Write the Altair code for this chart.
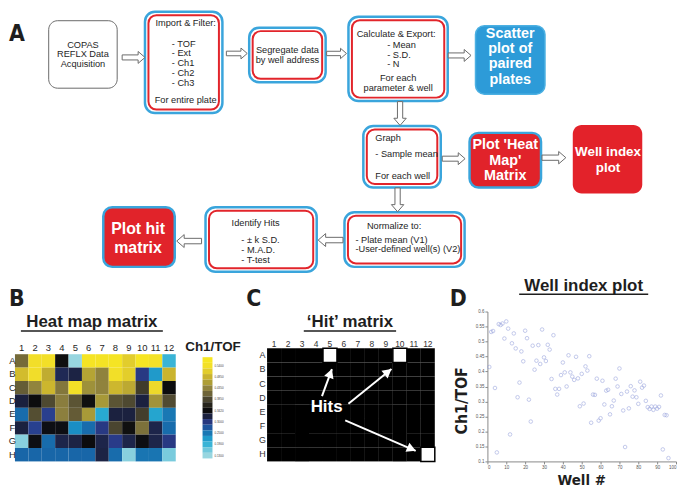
import math
import altair as alt
import pandas as pd

FONT = "Liberation Sans, Arial, Helvetica, sans-serif"
COND = "DejaVu Sans Condensed, Liberation Sans Narrow, Liberation Sans, sans-serif"
INK = "#1e1e1e"
BLUE = "#3aa5dc"
RED = "#e2252b"

# ---------------- Panel A: flow chart (figure pixel layout) ----------------
box_kind = ["plain", "double", "double", "double", "blue", "double",
            "redblue", "red", "double", "double", "redblue"]
box_x1 = [48, 145, 250, 350, 478, 365, 472, 576, 346, 206, 103]
box_y1 = [19, 10, 26, 15, 24, 125, 132, 124, 212, 207, 207]
box_x2 = [117, 223, 327, 450, 548, 443, 544, 646, 467, 318, 175]
box_y2 = [87, 112, 81, 100, 93, 187, 187, 193, 267, 272, 267]

arrow_x = [133.5, 237.5, 338, 462, 402, 456, 557, 399.5, 332, 189.5]
arrow_y = [56, 52, 52, 54, 112.5, 158, 157, 199.5, 240, 241]
arrow_angle = [0, 0, 0, 0, 90, 0, 0, 90, 180, 180]
arrow_len = [23, 21, 20, 23, 24, 23, 24, 24, 25, 25]

ctr_x = [82.5, 82.5, 82.5, 186, 186, 288.5, 288.5, 398, 400, 400, 396, 256.5]
ctr_y = [43, 53, 63, 21, 99, 49, 59, 32, 77, 87, 226, 223]
ctr_t = ["COPAS", "REFLX Data", "Acquisition", "Import & Filter:", "For entire plate",
         "Segregate data", "by well address", "Calculate & Export:", "For each",
         "parameter & well", "Normalize to:", "Identify Hits"]

left_x = [172, 172, 172, 172, 172, 389, 389, 389, 377, 377, 377, 357, 357, 242, 242, 242]
left_y = [42, 52, 62, 71.5, 81.5, 44, 53.5, 63, 137.5, 153, 175, 239.5, 249.5, 240, 250, 260]
left_t = ["- TOF", "- Ext", "- Ch1", "- Ch2", "- Ch3", "- Mean", "- S.D.", "- N",
          "Graph", "- Sample mean", "For each well", "- Plate mean (V1)",
          "-User-defined well(s) (V2)", "- \u00b1 k S.D.", "- M.A.D.", "- T-test"]

wb14_x = [513, 513, 513, 513, 508, 508, 508]
wb14_y = [32.5, 48, 63, 78.5, 144.5, 160, 175]
wb14_t = ["Scatter", "plot of", "paired", "plates", "Plot 'Heat", "Map'", "Matrix"]
wb13_x = [611.5, 611.5]
wb13_y = [151.5, 167]
wb13_t = ["Well index", "plot"]
wb16_x = [138, 138]
wb16_y = [229, 248]
wb16_t = ["Plot hit", "matrix"]

letter_x = [8, 8, 247, 452]
letter_y = [39, 306, 306, 306]
letter_t = ["A", "B", "C", "D"]

title_x = [91.5, 351.5, 587]
title_y = [328, 328, 291]
title_t = ["Heat map matrix", "\u2018Hit\u2019 matrix", "Well index plot"]
uline_x1 = [20, 305, 522]
uline_x2 = [163, 398, 652]
uline_y = [331.5, 331.5, 294.5]

SX = alt.Scale(domain=[8, 680], nice=False, zero=False)
SY = alt.Scale(domain=[8, 312], reverse=True, nice=False, zero=False)

boxes = pd.DataFrame({"kind": box_kind, "x1": box_x1, "y1": box_y1,
                      "x2": box_x2, "y2": box_y2})


def canvas_rect(df, **mark):
    return alt.Chart(df).mark_rect(**mark).encode(
        x=alt.X("x1:Q", scale=SX, axis=None), x2="x2:Q",
        y=alt.Y("y1:Q", scale=SY, axis=None), y2="y2:Q")


def canvas_text(xs, ys, ts, size, align="center", weight="normal", color=INK,
                font=FONT, baseline="middle"):
    df = pd.DataFrame({"x": xs, "y": ys, "t": ts})
    return alt.Chart(df).mark_text(
        align=align, baseline=baseline, fontSize=size, fontWeight=weight,
        color=color, font=font).encode(
        x=alt.X("x:Q", scale=SX, axis=None),
        y=alt.Y("y:Q", scale=SY, axis=None), text="t:N")


dbl = boxes[boxes.kind == "double"]
inner = dbl.assign(x1=dbl.x1 + 3.5, y1=dbl.y1 + 3.5, x2=dbl.x2 - 3.5, y2=dbl.y2 - 3.5)

ARROW = "M-1,-0.22L0.4,-0.22L0.4,-0.52L1,0L0.4,0.52L0.4,0.22L-1,0.22Z"
arrows = pd.DataFrame({"x": arrow_x, "y": arrow_y, "a": arrow_angle,
                       "s": [l * l for l in arrow_len]})

uline = pd.DataFrame({"x1": uline_x1, "x2": uline_x2, "y": uline_y})

flow = alt.layer(
    canvas_rect(boxes[boxes.kind == "plain"], fill="white", stroke="#6a6a6a",
                strokeWidth=1, cornerRadius=9),
    canvas_rect(dbl, fill="white", stroke=BLUE, strokeWidth=2.5, cornerRadius=10),
    canvas_rect(inner, fill="white", stroke=RED, strokeWidth=2, cornerRadius=8),
    canvas_rect(boxes[boxes.kind == "blue"], fill="#2d9bd8", stroke="#4cb0e2",
                strokeWidth=1.5, cornerRadius=9),
    canvas_rect(boxes[boxes.kind == "redblue"], fill="#e1232a", stroke=BLUE,
                strokeWidth=2.5, cornerRadius=9),
    canvas_rect(boxes[boxes.kind == "red"], fill="#e3222a", cornerRadius=9),
    alt.Chart(arrows).mark_point(shape=ARROW, filled=True, color="white",
                                 stroke="#6b6b6b", strokeWidth=1, opacity=1).encode(
        x=alt.X("x:Q", scale=SX, axis=None), y=alt.Y("y:Q", scale=SY, axis=None),
        angle=alt.Angle("a:Q", scale=None), size=alt.Size("s:Q", scale=None)),
    canvas_text(ctr_x, ctr_y, ctr_t, 9.3),
    canvas_text(left_x, left_y, left_t, 9.3, align="left"),
    canvas_text(wb14_x, wb14_y, wb14_t, 14.5, weight="bold", color="white"),
    canvas_text(wb13_x, wb13_y, wb13_t, 13.5, weight="bold", color="white"),
    canvas_text(wb16_x, wb16_y, wb16_t, 16, weight="bold", color="white"),
    canvas_text(letter_x, letter_y, letter_t, 23, align="left", weight="bold",
                font=COND, baseline="alphabetic"),
    canvas_text(title_x, title_y, title_t, 17, weight="bold", baseline="alphabetic"),
    alt.Chart(uline).mark_rule(color=INK, strokeWidth=1.5).encode(
        x=alt.X("x1:Q", scale=SX, axis=None), x2="x2:Q",
        y=alt.Y("y:Q", scale=SY, axis=None)),
).properties(width=672, height=304)

# ---------------- Panel B: heat map matrix ----------------
plate_rows = ["A", "B", "C", "D", "E", "F", "G", "H"]
plate_cols = [1, 2, 3, 4, 5, 6, 7, 8, 9, 10, 11, 12]
heat_vals = [
    [0.415, 0.532, 0.535, 0.345, 0.130, 0.558, 0.555, 0.560, 0.510, 0.567, 0.543, 0.190],
    [0.494, 0.527, 0.477, 0.314, 0.320, 0.467, 0.434, 0.536, 0.511, 0.298, 0.222, 0.486],
    [0.404, 0.436, 0.488, 0.425, 0.540, 0.447, 0.435, 0.489, 0.473, 0.378, 0.521, 0.342],
    [0.323, 0.342, 0.388, 0.430, 0.397, 0.345, 0.454, 0.397, 0.388, 0.322, 0.449, 0.390],
    [0.258, 0.392, 0.293, 0.432, 0.403, 0.455, 0.205, 0.322, 0.322, 0.380, 0.210, 0.250],
    [0.322, 0.292, 0.340, 0.340, 0.235, 0.258, 0.298, 0.385, 0.345, 0.420, 0.318, 0.258],
    [0.140, 0.340, 0.258, 0.318, 0.320, 0.342, 0.318, 0.296, 0.318, 0.340, 0.318, 0.298],
    [0.262, 0.262, 0.262, 0.262, 0.262, 0.262, 0.320, 0.258, 0.140, 0.252, 0.252, 0.150],
]
color_stops = [0.13, 0.20, 0.235, 0.262, 0.295, 0.32, 0.342, 0.385, 0.43, 0.455,
               0.485, 0.525, 0.57]
color_list = ["#98d6e0", "#2aaed4", "#1a8ec4", "#1866a8", "#2a3c8c", "#1c2344",
              "#0c0c0e", "#4a4530", "#8a7d3e", "#a89a38", "#c9b32e", "#f1dd2a", "#f6e622"]
cbar_levels = [0.57, 0.54, 0.51, 0.485, 0.46, 0.435, 0.41, 0.385, 0.36, 0.342,
               0.322, 0.30, 0.275, 0.25, 0.22, 0.19, 0.155, 0.13]

CSCALE = alt.Scale(domain=color_stops, range=color_list, interpolate="rgb")
BX = alt.Scale(domain=[-6 / 13.5, 201 / 13.5], nice=False, zero=False)
BY = alt.Scale(domain=[-43 / 13.5, 8], reverse=True, nice=False, zero=False)

cells = []
for ri, vals in enumerate(heat_vals):
    for ci, v in enumerate(vals):
        cells.append({"c0": ci, "c1": ci + 1, "r0": ri, "r1": ri + 1, "v": v})
cells_b = pd.DataFrame(cells)
collab_b = pd.DataFrame({"x": [c - 0.5 for c in plate_cols], "y": -0.44,
                         "t": [str(c) for c in plate_cols]})
rowlab_b = pd.DataFrame({"x": -0.185, "y": [i + 0.5 for i in range(8)], "t": plate_rows})
cbar = pd.DataFrame({"lo": list(range(len(cbar_levels))),
                     "hi": [i + 1 for i in range(len(cbar_levels))],
                     "mid": [i + 0.5 for i in range(len(cbar_levels))],
                     "lev": cbar_levels,
                     "t": [f"{l:.4f}" for l in cbar_levels]})
CBY = alt.Scale(domain=[0, len(cbar_levels)], range=[46, 148], nice=False, zero=False)

panel_b = alt.layer(
    alt.Chart(cells_b).mark_rect().encode(
        x=alt.X("c0:Q", scale=BX, axis=None), x2="c1:Q",
        y=alt.Y("r0:Q", scale=BY, axis=None), y2="r1:Q",
        color=alt.Color("v:Q", scale=CSCALE, legend=None)),
    alt.Chart(collab_b).mark_text(fontSize=9.5, font=FONT, color=INK).encode(
        x=alt.X("x:Q", scale=BX, axis=None), y=alt.Y("y:Q", scale=BY, axis=None),
        text="t:N"),
    alt.Chart(rowlab_b).mark_text(fontSize=9.5, font=FONT, color=INK).encode(
        x=alt.X("x:Q", scale=BX, axis=None), y=alt.Y("y:Q", scale=BY, axis=None),
        text="t:N"),
    alt.Chart(cbar).mark_rect().encode(
        x=alt.value(195), x2=alt.value(205),
        y=alt.Y("lo:Q", scale=CBY, axis=None), y2="hi:Q",
        color=alt.Color("lev:Q", scale=CSCALE, legend=None)),
    alt.Chart(cbar[cbar.lo % 2 == 1]).mark_text(fontSize=3, font=FONT, color="#444",
                                                 align="left").encode(
        x=alt.value(207), y=alt.Y("mid:Q", scale=CBY, axis=None), text="t:N"),
    alt.Chart(pd.DataFrame({"t": ["Ch1/TOF"]})).mark_text(
        fontSize=13.5, fontWeight="bold", font=FONT, color=INK).encode(
        x=alt.value(205.5), y=alt.value(36), text="t:N"),
).resolve_scale(y="independent").properties(width=207, height=151)

# ---------------- Panel C: hit matrix ----------------
hit_rows = ["A", "A", "H"]
hit_cols = [5, 10, 12]
hits_label_x = [4.26]
hits_label_y = [4.14]
arr_tail_x = [3.93, 5.82, 5.59]
arr_tail_y = [3.39, 3.93, 5.10]
arr_tip_x = [4.64, 8.90, 10.63]
arr_tip_y = [1.47, 1.47, 7.25]

CX = alt.Scale(domain=[0, 12], nice=False, zero=False)
CY = alt.Scale(domain=[-37 / 14.25, 8], reverse=True, nice=False, zero=False)

grid_c = pd.DataFrame([{"c0": ci, "c1": ci + 1, "r0": ri, "r1": ri + 1}
                       for ri in range(len(plate_rows)) for ci in range(len(plate_cols))])
hits_c = pd.DataFrame({"c0": [c - 1 for c in hit_cols], "c1": hit_cols,
                       "r0": [plate_rows.index(r) for r in hit_rows],
                       "r1": [plate_rows.index(r) + 1 for r in hit_rows]})
collab_c = pd.DataFrame({"x": [c - 0.5 for c in plate_cols], "y": -0.3,
                         "t": [str(c) for c in plate_cols]})
rowlab_c = pd.DataFrame({"x": -0.33, "y": [i + 0.5 for i in range(8)], "t": plate_rows})
arr_c = pd.DataFrame({"x1": arr_tail_x, "y1": arr_tail_y, "x2": arr_tip_x, "y2": arr_tip_y})
arr_c["a"] = [math.degrees(math.atan2((x2 - x1) * 169 / 12, -(y2 - y1) * 151 / (8 + 37 / 14.25)))
              for x1, y1, x2, y2 in zip(arr_tail_x, arr_tail_y, arr_tip_x, arr_tip_y)]
HEAD = "M0,0L0.55,1L-0.55,1Z"

panel_c = alt.layer(
    alt.Chart(grid_c).mark_rect(color="black").encode(
        x=alt.X("c0:Q", scale=CX, axis=None), x2="c1:Q",
        y=alt.Y("r0:Q", scale=CY, axis=None), y2="r1:Q"),
    alt.Chart(hits_c).mark_rect(color="white", stroke="black", strokeWidth=1.5).encode(
        x=alt.X("c0:Q", scale=CX, axis=None), x2="c1:Q",
        y=alt.Y("r0:Q", scale=CY, axis=None), y2="r1:Q"),
    alt.Chart(collab_c).mark_text(fontSize=8.5, font=FONT, color="#333").encode(
        x=alt.X("x:Q", scale=CX, axis=None), y=alt.Y("y:Q", scale=CY, axis=None),
        text="t:N"),
    alt.Chart(rowlab_c).mark_text(fontSize=9, font=FONT, color="#333").encode(
        x=alt.X("x:Q", scale=CX, axis=None), y=alt.Y("y:Q", scale=CY, axis=None),
        text="t:N"),
    alt.Chart(arr_c).mark_rule(color="white", strokeWidth=2).encode(
        x=alt.X("x1:Q", scale=CX, axis=None), x2="x2:Q",
        y=alt.Y("y1:Q", scale=CY, axis=None), y2="y2:Q"),
    alt.Chart(arr_c).mark_point(shape=HEAD, filled=True, color="white", size=324,
                                opacity=1).encode(
        x=alt.X("x2:Q", scale=CX, axis=None), y=alt.Y("y2:Q", scale=CY, axis=None),
        angle=alt.Angle("a:Q", scale=None)),
    alt.Chart(pd.DataFrame({"x": hits_label_x, "y": hits_label_y, "t": ["Hits"]})).mark_text(
        fontSize=17, fontWeight="bold", font=FONT, color="white").encode(
        x=alt.X("x:Q", scale=CX, axis=None), y=alt.Y("y:Q", scale=CY, axis=None),
        text="t:N"),
).properties(width=169, height=151)

# ---------------- Panel D: well index plot ----------------
well_val = [
    0.415, 0.532, 0.535, 0.345, 0.130, 0.558, 0.555, 0.560, 0.510, 0.567, 0.543, 0.190,
    0.494, 0.527, 0.477, 0.314, 0.363, 0.467, 0.434, 0.536, 0.511, 0.306, 0.233, 0.486,
    0.406, 0.436, 0.488, 0.425, 0.540, 0.447, 0.435, 0.489, 0.473, 0.375, 0.521, 0.342,
    0.323, 0.342, 0.388, 0.430, 0.397, 0.350, 0.454, 0.397, 0.383, 0.372, 0.449, 0.377,
    0.284, 0.392, 0.293, 0.417, 0.403, 0.451, 0.229, 0.323, 0.322, 0.376, 0.236, 0.244,
    0.369, 0.290, 0.336, 0.339, 0.257, 0.284, 0.303, 0.376, 0.350, 0.410, 0.325, 0.270,
    0.148, 0.333, 0.277, 0.351, 0.316, 0.337, 0.314, 0.292, 0.366, 0.346, 0.353, 0.302,
    0.281, 0.275, 0.283, 0.272, 0.283, 0.276, 0.282, 0.320, 0.140, 0.255, 0.254, 0.111,
]
well_num = list(range(1, len(well_val) + 1))
x_ticks = [0, 10, 20, 30, 40, 50, 60, 70, 80, 90, 100]
y_ticks = [0.1, 0.15, 0.2, 0.25, 0.3, 0.35, 0.4, 0.45, 0.5, 0.55, 0.6]

axis_common = dict(labelFontSize=4.5, labelFont=FONT, labelColor="#555", tickSize=2.5,
                   tickColor="#888", domainColor="#888", domainWidth=1, labelPadding=1,
                   grid=False, title=None)
scatter_df = pd.DataFrame({"well": well_num, "val": well_val})
panel_d = alt.layer(
    alt.Chart(scatter_df).mark_point(size=13, strokeWidth=0.8, color="#95a0dc").encode(
        x=alt.X("well:Q", scale=alt.Scale(domain=[0, 100], nice=False, zero=False),
                axis=alt.Axis(values=x_ticks, **axis_common)),
        y=alt.Y("val:Q", scale=alt.Scale(domain=[0.1, 0.6], nice=False, zero=False),
                axis=alt.Axis(values=y_ticks, format="~g", **axis_common))),
    alt.Chart(pd.DataFrame({"t": ["Ch1/TOF"]})).mark_text(
        fontSize=16, fontWeight="bold", font=COND, color=INK, angle=270).encode(
        x=alt.value(-26), y=alt.value(90), text="t:N"),
    alt.Chart(pd.DataFrame({"t": ["Well #"]})).mark_text(
        fontSize=15, fontWeight="bold", font=COND, color=INK).encode(
        x=alt.value(95), y=alt.value(170), text="t:N"),
).properties(width=190, height=151)

chart = alt.vconcat(
    flow,
    alt.hconcat(panel_b, panel_c, panel_d, spacing=53, bounds="flush"),
    spacing=0, bounds="flush", padding=0, background="white",
).configure_view(strokeWidth=0, stroke=None)

chart.save("out.html", embed_options={"renderer": "svg", "actions": False})
